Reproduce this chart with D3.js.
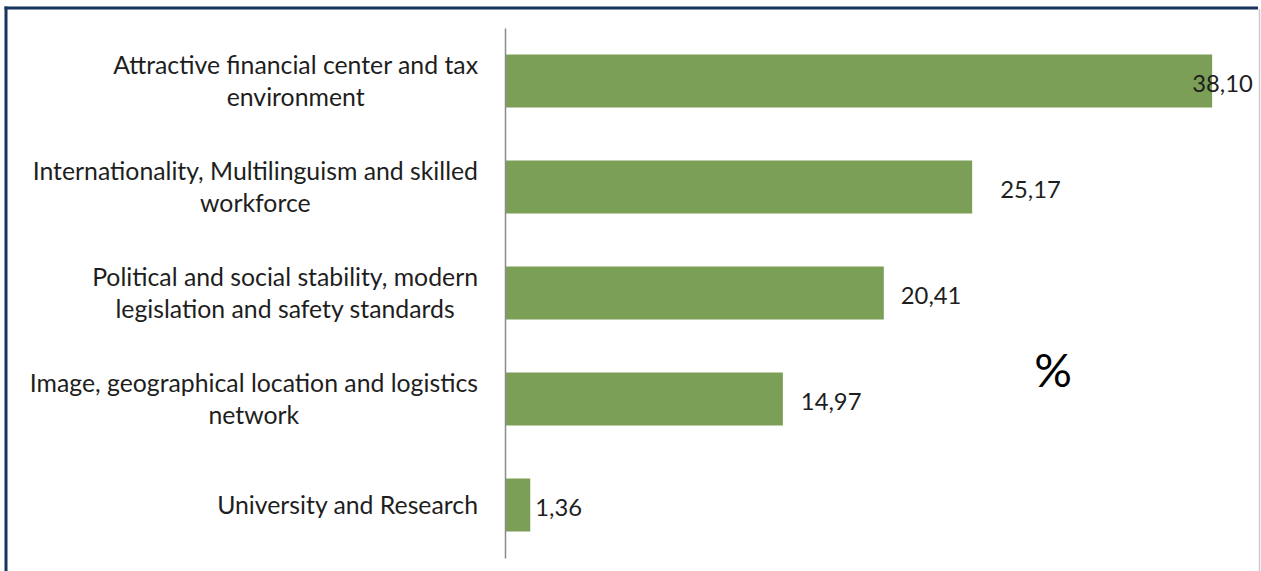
<!DOCTYPE html>
<html>
<head>
<meta charset="utf-8">
<script src="https://cdn.jsdelivr.net/npm/d3@7"></script>
<style>
  html, body { margin: 0; padding: 0; background: #ffffff; }
  svg { display: block; }
</style>
</head>
<body>
<svg id="chart" width="1261" height="571"></svg>
<script>
const categories = [
  ["Attractive financial center and tax", "environment"],
  ["Internationality, Multilinguism and skilled", "workforce"],
  ["Political and social stability, modern", "legislation and safety standards"],
  ["Image, geographical location and logistics", "network"],
  ["University and Research"]
];
const values = [38.10, 25.17, 20.41, 14.97, 1.36];
const valueLabels = ["38,10", "25,17", "20,41", "14,97", "1,36"];
const labelDx = [-20, 28, 17, 18, 5];
const unitLabel = "%";

const svg = d3.select("#chart");
const fontFamily = "Lato, 'Open Sans', sans-serif";
const textColor = "#1e1e1e";

// frame
svg.append("line").attr("x1", 4.5).attr("x2", 1258).attr("y1", 8).attr("y2", 8)
  .attr("stroke", "#17365d").attr("stroke-width", 3);
svg.append("line").attr("x1", 6).attr("x2", 6).attr("y1", 6.5).attr("y2", 575)
  .attr("stroke", "#17365d").attr("stroke-width", 3);
svg.append("line").attr("x1", 1259.5).attr("x2", 1259.5).attr("y1", 9).attr("y2", 575)
  .attr("stroke", "#c8ccd2").attr("stroke-width", 1.5);

const x = d3.scaleLinear().domain([0, 40]).range([505, 505 + 742.4]);
const y = d3.scaleBand().domain(d3.range(values.length)).range([28, 558])
  .paddingInner(0.5).paddingOuter(0.25);

// bars
svg.append("g").selectAll("rect").data(values).join("rect")
  .attr("x", x(0))
  .attr("y", (d, i) => y(i))
  .attr("width", d => x(d) - x(0))
  .attr("height", y.bandwidth())
  .attr("fill", "#7b9f56");

// axis line
const axis = d3.axisLeft(y).tickSize(0).tickFormat("");
svg.append("g").attr("transform", `translate(${x(0)},0)`).call(axis)
  .call(g => g.select(".domain").attr("stroke", "#8a8a8a").attr("stroke-width", 1.5));

// category labels (block right-aligned, lines centred within block)
const catG = svg.append("g");
const rightEdge = 478;
categories.forEach((lines, i) => {
  const cy = y(i) + y.bandwidth() / 2;
  const lh = 32;
  const n = lines.length;
  const t = catG.append("text")
    .attr("text-anchor", "middle")
    .attr("font-family", fontFamily)
    .attr("font-size", 24.8)
    .attr("fill", textColor);
  const spans = lines.map((ln, k) => t.append("tspan")
      .attr("y", cy + (k - (n - 1) / 2) * lh)
      .attr("dy", "0.36em")
      .text(ln));
  const maxW = d3.max(spans, s => s.node().getComputedTextLength());
  spans.forEach(s => s.attr("x", rightEdge - maxW / 2));
});

// value labels
svg.append("g").selectAll("text").data(values).join("text")
  .attr("x", (d, i) => x(d) + labelDx[i])
  .attr("y", (d, i) => y(i) + y.bandwidth() / 2)
  .attr("dy", "0.45em")
  .attr("font-family", fontFamily)
  .attr("font-size", 23.8)
  .attr("fill", textColor)
  .text((d, i) => valueLabels[i]);

// unit label
svg.append("text")
  .attr("x", 1053).attr("y", 387)
  .attr("text-anchor", "middle")
  .attr("font-family", fontFamily)
  .attr("font-size", 47)
  .attr("fill", "#000")
  .text(unitLabel);
</script>
</body>
</html>
